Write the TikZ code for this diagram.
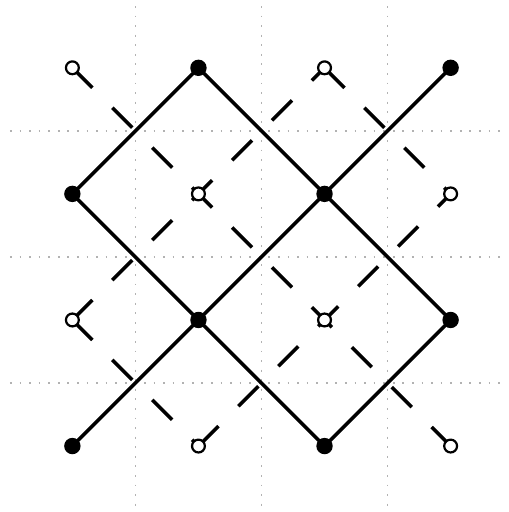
\documentclass[tikz,border=0pt]{standalone}
\usetikzlibrary{backgrounds}

\begin{document}
\begin{tikzpicture}[
  gridline/.style={draw=black!30, line width=.4pt, dash pattern=on .4pt off 1.76pt},
  edge/.style={draw=black, line width=.8pt},
  dashedge/.style={edge, dash pattern=on 6.37pt off 6.37pt},
  filled/.style={circle, fill=black, inner sep=0pt, minimum size=3.7pt},
  hollow/.style={circle, draw=black, fill=white, line width=.5pt, inner sep=0pt, minimum size=2.9pt}
]
  \useasboundingbox (-0.574,-0.523) rectangle (3.456,3.538);

  % Vertices of the two lattices: filled and hollow.
  \foreach \i/\j in {1/3,3/3,0/2,2/2,1/1,3/1,0/0,2/0}
    {\node[filled] (v\i\j) at (\i,\j) {};}
  \foreach \i/\j in {0/3,2/3,1/2,3/2,0/1,2/1,1/0,3/0}
    {\node[hollow] (v\i\j) at (\i,\j) {};}

  \begin{scope}[on background layer]
    % Dotted grid at the half steps.
    \foreach \t in {0.5,1.5,2.5} {
      \draw[gridline] (-0.495,\t) -- (3.39,\t);
      \draw[gridline] (\t,3.49) -- (\t,-0.48);
    }

    % Solid lattice.
    \draw[edge, line join=round] (v02.center) -- (v13.center) -- (v22.center) -- (v31.center)
      -- (v20.center) -- (v11.center) -- cycle;
    \draw[edge] (v33.center) -- (v22.center) -- (v11.center) -- (v00.center);

    % Dashed lattice.
    \draw[dashedge] (v03.center) -- (v12.center) -- (v21.center) -- (v30.center);
    \draw[dashedge] (v01.center) -- (v12.center) -- (v23.center);
    \draw[dashedge] (v01.center) -- (v10.center);
    \draw[dashedge] (v10.center) -- (v21.center) -- (v32.center);
    \draw[dashedge] (v23.center) -- (v32.center);
  \end{scope}
\end{tikzpicture}
\end{document}
